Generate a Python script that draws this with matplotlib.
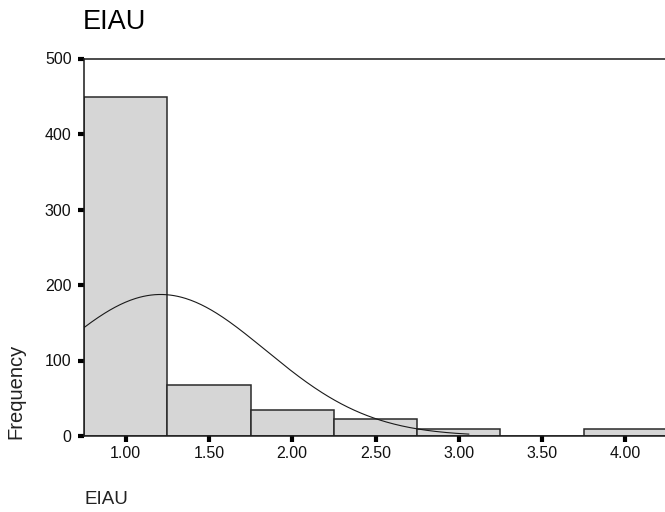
import numpy as np
import matplotlib
matplotlib.use("Agg")
import matplotlib.pyplot as plt

# Histogram of EIAU scores (bin width 0.5)
bin_centers = [1.00, 1.50, 2.00, 2.50, 3.00, 3.50, 4.00]
frequencies = [449, 68, 35, 22, 9, 0, 9]
bin_width = 0.5

# Fitted normal curve parameters
curve_mean = 1.21
curve_sd = 0.63
curve_n = sum(frequencies)
curve_end = 3.06

x_ticks = [1.00, 1.50, 2.00, 2.50, 3.00, 3.50, 4.00]
x_tick_labels = ["1.00", "1.50", "2.00", "2.50", "3.00", "3.50", "4.00"]
y_ticks = [0, 100, 200, 300, 400, 500]

plt.rcParams["font.family"] = ["Liberation Sans", "DejaVu Sans"]

W, H = 665, 512
fig = plt.figure(figsize=(W / 100, H / 100), dpi=100)
ax = fig.add_axes([84 / W, 76 / H, (667 - 84) / W, (436 - 58.5) / H])

ax.bar(bin_centers, frequencies, width=bin_width, color="#d6d6d6",
       edgecolor="#2a2a2a", linewidth=1.1, zorder=2)

xs = np.linspace(bin_centers[0] - bin_width / 2, curve_end, 300)
ys = curve_n * bin_width / (curve_sd * np.sqrt(2 * np.pi)) * \
    np.exp(-0.5 * ((xs - curve_mean) / curve_sd) ** 2)
ax.plot(xs, ys, color="#1a1a1a", linewidth=0.8, zorder=3)

ax.set_xlim(0.75, 4.25)
ax.set_ylim(0, 500)
ax.set_xticks(x_ticks)
ax.set_xticklabels(x_tick_labels)
ax.set_yticks(y_ticks)

for side in ["left", "top", "bottom", "right"]:
    ax.spines[side].set_color("#1a1a1a")
    ax.spines[side].set_linewidth(1.1)

ax.tick_params(axis="both", direction="out", length=4, width=3,
               color="black", labelsize=11.5, labelcolor="#111111")
ax.tick_params(axis="y", pad=5)
ax.tick_params(axis="x", pad=3)

# Axis titles placed SPSS-style: y title near the bottom, x title left-aligned
fig.text(16 / W, 1 - 391 / H, "Frequency", fontsize=14.5, color="#222222",
         rotation=90, ha="center", va="center")
fig.text(84 / W, 1 - 500 / H, "EIAU", fontsize=13.5, color="#222222",
         ha="left", va="center")
fig.text(83 / W, 1 - 22 / H, "EIAU", fontsize=19.5, color="black",
         ha="left", va="center")

fig.savefig("out.png", dpi=100)
